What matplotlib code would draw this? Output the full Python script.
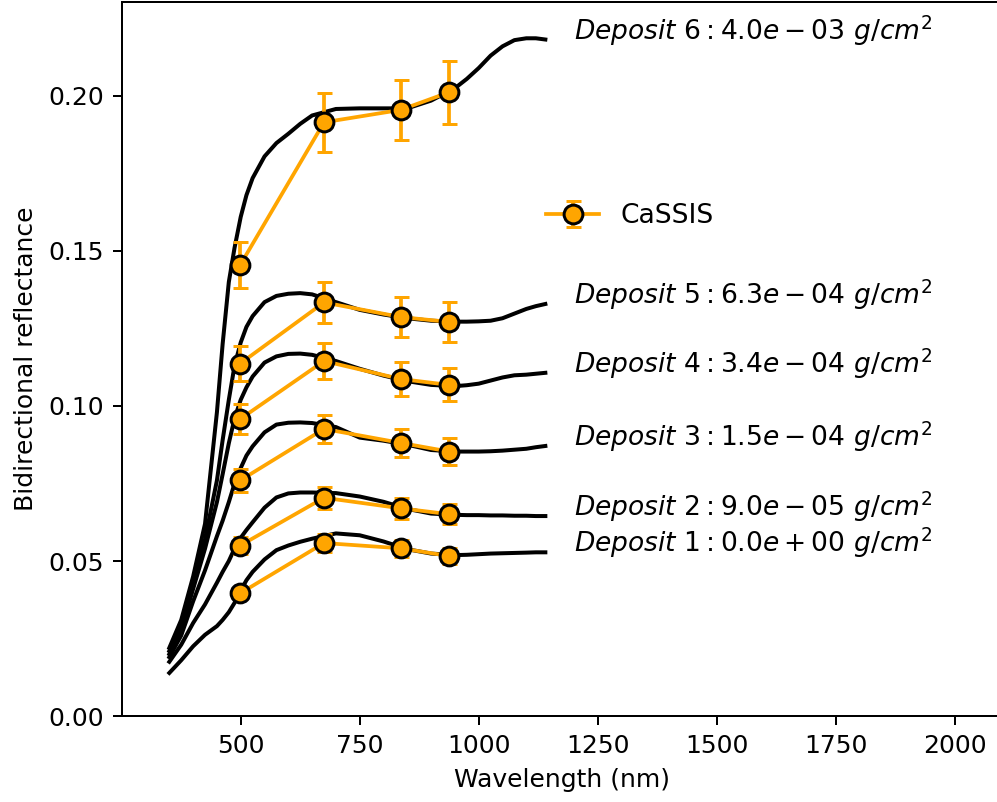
import numpy as np
import matplotlib.pyplot as plt

# model wavelengths (nm)
wl = [350, 375, 400, 425, 450, 462, 475, 487, 500, 512, 525, 550, 575, 600, 625, 650, 700,
      750, 800, 850, 900, 950, 975, 1000, 1025, 1050, 1075, 1100, 1120, 1140]

dep1 = [0.0139, 0.0180, 0.0225, 0.0262, 0.0290, 0.0310, 0.0335, 0.0365, 0.0405, 0.0438, 0.0465,
        0.0505, 0.0535, 0.0550, 0.0562, 0.0572, 0.0589, 0.0583, 0.0563, 0.0538, 0.0524, 0.0519,
        0.0520, 0.0522, 0.0524, 0.0525, 0.0526, 0.0527, 0.0528, 0.0528]
dep2 = [0.0175, 0.0230, 0.0300, 0.0360, 0.0430, 0.0465, 0.0500, 0.0540, 0.0575, 0.0600, 0.0625,
        0.0672, 0.0705, 0.0718, 0.0721, 0.0721, 0.0719, 0.0708, 0.0691, 0.0668, 0.0653, 0.0649,
        0.0648, 0.0648, 0.0647, 0.0647, 0.0646, 0.0646, 0.0645, 0.0645]
dep3 = [0.0190, 0.0260, 0.0370, 0.0470, 0.0580, 0.0630, 0.0690, 0.0750, 0.0800, 0.0840, 0.0870,
        0.0915, 0.0940, 0.0946, 0.0947, 0.0945, 0.0932, 0.0898, 0.0888, 0.0875, 0.0858, 0.0853,
        0.0853, 0.0853, 0.0854, 0.0856, 0.0859, 0.0862, 0.0867, 0.0871]
dep4 = [0.0200, 0.0280, 0.0410, 0.0540, 0.0690, 0.0780, 0.0880, 0.0960, 0.1020, 0.1060, 0.1095,
        0.1140, 0.1160, 0.1168, 0.1169, 0.1165, 0.1145, 0.1120, 0.1098, 0.1080, 0.1068, 0.1064,
        0.1067, 0.1072, 0.1082, 0.1092, 0.1099, 0.1101, 0.1104, 0.1107]
dep5 = [0.0210, 0.0290, 0.0430, 0.0570, 0.0760, 0.0890, 0.1020, 0.1130, 0.1205, 0.1255, 0.1290,
        0.1335, 0.1355, 0.1362, 0.1364, 0.1360, 0.1335, 0.1310, 0.1295, 0.1283, 0.1275, 0.1272,
        0.1272, 0.1273, 0.1275, 0.1283, 0.1298, 0.1313, 0.1322, 0.1329]
dep6 = [0.0220, 0.0310, 0.0450, 0.0620, 0.0980, 0.1200, 0.1400, 0.1510, 0.1610, 0.1680, 0.1735,
        0.1805, 0.1848, 0.1878, 0.1910, 0.1937, 0.1958, 0.1960, 0.1960, 0.1960, 0.1985, 0.2025,
        0.2055, 0.2090, 0.2130, 0.2160, 0.2180, 0.2186, 0.2186, 0.2182]
models = [dep1, dep2, dep3, dep4, dep5, dep6]

labels = [r'$Deposit\ 1: 0.0e+00\ g/cm^2$',
          r'$Deposit\ 2: 9.0e-05\ g/cm^2$',
          r'$Deposit\ 3: 1.5e-04\ g/cm^2$',
          r'$Deposit\ 4: 3.4e-04\ g/cm^2$',
          r'$Deposit\ 5: 6.3e-04\ g/cm^2$',
          r'$Deposit\ 6: 4.0e-03\ g/cm^2$']

# CaSSIS filters (nm) and measured reflectance
cassis_wl = [499, 675, 836, 938]
cassis = [[0.0396, 0.0558, 0.0541, 0.0516],
          [0.0550, 0.0704, 0.0670, 0.0651],
          [0.0760, 0.0926, 0.0881, 0.0853],
          [0.0958, 0.1145, 0.1087, 0.1068],
          [0.1137, 0.1334, 0.1287, 0.1271],
          [0.1455, 0.1915, 0.1955, 0.2012]]
cassis_err = [[0.0020, 0.0028, 0.0027, 0.0026],
              [0.0028, 0.0035, 0.0034, 0.0033],
              [0.0038, 0.0046, 0.0044, 0.0043],
              [0.0048, 0.0057, 0.0054, 0.0053],
              [0.0057, 0.0067, 0.0064, 0.0064],
              [0.0073, 0.0096, 0.0098, 0.0101]]

fig = plt.figure(figsize=(997/180, 802/180), dpi=180)
ax = fig.add_axes([0.1221, 0.1072, 0.8832, 0.8903])

for i in range(6):
    ax.plot(wl, models[i], color='black', lw=1.6)
    lab = 'CaSSIS' if i == 0 else None
    ax.errorbar(cassis_wl, cassis[i], yerr=cassis_err[i], color='orange', marker='o',
                mfc='orange', mec='black', mew=1.2, ms=7.5, capsize=3, lw=1.5, label=lab)
    ax.text(1200, models[i][-1], labels[i], ha='left', va='baseline', fontsize=10.6)

ax.set_xlim(250, 2100)
ax.set_ylim(0, 0.2303)
ax.set_xticks([500, 750, 1000, 1250, 1500, 1750, 2000])
ax.set_yticks([0.0, 0.05, 0.10, 0.15, 0.20])
ax.set_yticklabels(['0.00', '0.05', '0.10', '0.15', '0.20'])
ax.set_xlabel('Wavelength (nm)')
ax.set_ylabel('Bidirectional reflectance')
ax.legend(loc='center left', bbox_to_anchor=(0.455, 0.70), frameon=False, fontsize=10.6)

fig.savefig('out.png', dpi=180)
